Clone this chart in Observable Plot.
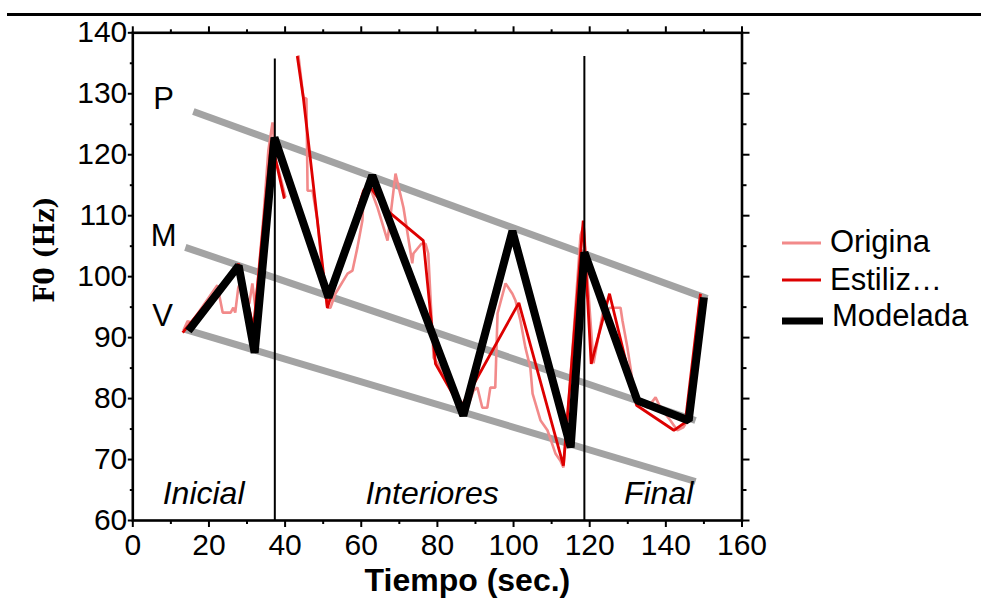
<!DOCTYPE html>
<html><head><meta charset="utf-8">
<script src="https://cdn.jsdelivr.net/npm/d3@7"></script>
<script src="https://cdn.jsdelivr.net/npm/@observablehq/plot@0.6"></script>
<style>
body{margin:0;background:#fff;}
#wrap{position:relative;width:981px;height:610px;font-family:"Liberation Sans",Arial,Helvetica,sans-serif;}
#rule{position:absolute;left:7px;right:0;top:12.6px;height:3.4px;background:#000;}
#wrap svg.legend{position:absolute;left:0;top:0;pointer-events:none;}
#wrap svg{display:block;}
</style></head>
<body><div id="wrap"><div id="rule"></div></div>
<script>
// ---- data ----
const xTicks = [0, 20, 40, 60, 80, 100, 120, 140, 160];
const yTicks = [60, 70, 80, 90, 100, 110, 120, 130, 140];
const xMinor = [10, 30, 50, 70, 90, 110, 130, 150];
const yMinor = [65, 75, 85, 95, 105, 115, 125, 135];

// Original F0 (two pieces)
const origT1 = [13.3,14.4,15.4,22.2,23.6,25.7,26.4,26.9,27.7,28.5,29.9,30.6,31.4,32.2,34.3,35.6,36.7,37.5,38.3,40.1];
const origF1 = [91.2,92.7,92.5,98.6,94.1,94.1,94.9,94.1,98.2,99.4,96.6,95.6,98.9,94.9,109.7,120.7,125.3,119.1,117.5,113.0];
const origT2 = [43.5,44.8,45.6,45.9,47.2,48.5,49.8,51.1,51.9,53.2,56.4,57.7,59.0,60.3,60.6,61.9,64.3,66.9,69.0,71.1,73.4,73.7,75.8,76.9,77.6,79.0,80.0,86.1,87.9,89.5,90.5,91.8,93.1,93.9,95.2,95.8,97.9,99.7,100.5,101.8,103.1,104.4,105.0,107.1,108.9,111.0,112.3,113.1,114.9,117.6,118.4,121.0,123.4,125.4,128.1,128.6,129.9,130.7,132.0,135.2,137.3,138.6,141.2,143.0,144.6,145.7,147.3,149.1];
const origF2 = [136.3,129.4,129.2,114.1,114.1,109.2,100.5,94.9,94.9,97.2,100.5,101.0,104.8,109.2,113.0,115.3,111.3,105.9,116.9,111.3,102.2,103.8,105.4,105.4,103.8,86.7,85.8,78.5,78.5,81.3,81.8,78.5,78.5,81.8,81.8,94.0,98.9,97.2,96.1,92.8,88.4,85.1,80.8,76.4,74.8,71.0,69.8,68.7,83.0,106.8,108.4,85.8,94.0,94.9,94.9,92.8,88.4,85.1,79.7,78.5,80.2,78.5,76.4,74.8,75.3,76.4,86.2,97.2];

// Estilizada (two pieces)
const estT1 = [13.1,27.8,31.7,36.4,39.8];
const estF1 = [90.8,102.1,91.6,122.3,112.8];
const estT2 = [43.2,44.8,51.1,60.6,61.9,66.9,76.3,79.5,86.1,101.4,113.1,118.3,120.4,125.2,132.3,142.1,145.1,149.1];
const estF2 = [136.2,129.3,94.9,114.1,115.1,110.8,105.9,85.7,78.5,95.7,69.0,109.2,85.7,97.2,78.9,74.8,76.1,97.2];

// Modelada
const modT = [14.6,27.8,32.0,37.2,51.4,62.9,86.8,99.7,115.0,118.6,132.5,146.0,150.0];
const modF = [91.1,101.8,87.5,122.8,96.6,116.6,77.2,107.5,72.0,104.0,79.7,76.4,96.6];

// Declination guide lines P, M, V
const guideNames = ["P", "M", "V"];
const guideT1 = [15.9, 13.8, 13.5];
const guideF1 = [127.1, 104.8, 91.4];
const guideT2 = [150.9, 147.8, 147.8];
const guideF2 = [96.4, 76.4, 66.4];
const guideLabelT = [8.1, 8.1, 7.8];
const guideLabelF = [129.1, 106.6, 93.6];

// Boundaries and regions
const boundaryT = [37.3, 118.6];
const boundaryTop = [135.7, 136.1];
const regionNames = ["Inicial", "Interiores", "Final"];
const regionT = [18.6, 78.6, 138.1];
const regionF = [64.4, 64.4, 64.4];

const seriesNames = ["Origina", "Estiliz\u2026", "Modelada"];
const xLabel = "Tiempo (sec.)";
const yLabel = "F0 (Hz)";

// ---- tables ----
const origTable = [
  ...origT1.map((t, i) => ({t, f: origF1[i], seg: 1})),
  ...origT2.map((t, i) => ({t, f: origF2[i], seg: 2}))
];
const estTable = [
  ...estT1.map((t, i) => ({t, f: estF1[i], seg: 1})),
  ...estT2.map((t, i) => ({t, f: estF2[i], seg: 2}))
];
const modTable = modT.map((t, i) => ({t, f: modF[i]}));
const guideTable = guideNames.flatMap((name, i) => [
  {name, t: guideT1[i], f: guideF1[i]},
  {name, t: guideT2[i], f: guideF2[i]}
]);
const guideLabels = guideNames.map((name, i) => ({name, t: guideLabelT[i], f: guideLabelF[i]}));
const boundaryTable = boundaryT.map((t, i) => ({t, top: boundaryTop[i]}));
const regionTable = regionNames.map((name, i) => ({name, t: regionT[i], f: regionF[i]}));

const pink = "#f28a8a", red = "#dd0000", gray = "#a3a3a3";
const font = "Liberation Sans, Arial, Helvetica, sans-serif";

const chart = Plot.plot({
  width: 981, height: 610,
  marginLeft: 132.3, marginRight: 239.5, marginTop: 32.3, marginBottom: 90,
  x: {domain: [0, 160]},
  y: {domain: [60, 140]},
  style: {fontFamily: font, background: "transparent", overflow: "visible", color: "#000"},
  marks: [
    Plot.line(guideTable, {x: "t", y: "f", z: "name", stroke: gray, strokeWidth: 7, strokeLinecap: "butt"}),
    Plot.line(origTable, {x: "t", y: "f", z: "seg", stroke: pink, strokeWidth: 2.6, strokeLinejoin: "miter", strokeLinecap: "butt"}),
    Plot.line(estTable, {x: "t", y: "f", z: "seg", stroke: red, strokeWidth: 2.8, strokeLinejoin: "miter", strokeLinecap: "butt"}),
    Plot.ruleX(boundaryTable, {x: "t", y1: 60, y2: "top", stroke: "#000", strokeWidth: 2}),
    Plot.line(modTable, {x: "t", y: "f", stroke: "#000", strokeWidth: 8, strokeLinejoin: "miter", strokeLinecap: "butt"}),
    Plot.text(guideLabels, {x: "t", y: "f", text: "name", fontSize: 31, fill: "#000"}),
    Plot.text(regionTable, {x: "t", y: "f", text: "name", fontSize: 32, fontStyle: "italic", fill: "#000"}),
    Plot.frame({stroke: "#000", strokeWidth: 2.6}),
    Plot.axisX(xTicks, {anchor: "bottom", tickSize: 7, tickPadding: 6, fontSize: 30, strokeWidth: 2, label: null}),
    Plot.axisX(xMinor, {anchor: "bottom", tickSize: 4, tickFormat: () => "", strokeWidth: 2, label: null}),
    Plot.axisX(xTicks, {anchor: "top", tickSize: 7, tickFormat: () => "", strokeWidth: 2, label: null}),
    Plot.axisX(xMinor, {anchor: "top", tickSize: 4, tickFormat: () => "", strokeWidth: 2, label: null}),
    Plot.axisY(yTicks, {anchor: "left", tickSize: 4.5, tickPadding: 1, fontSize: 30, strokeWidth: 2, label: null}),
    Plot.axisY(yMinor, {anchor: "left", tickSize: 2.5, tickFormat: () => "", strokeWidth: 2, label: null}),
    Plot.axisY(yTicks, {anchor: "right", tickSize: 7, tickFormat: () => "", strokeWidth: 2, label: null}),
    Plot.axisY(yMinor, {anchor: "right", tickSize: 4, tickFormat: () => "", strokeWidth: 2, label: null}),
    Plot.text([xLabel], {frameAnchor: "bottom", lineAnchor: "bottom", textAnchor: "middle", dx: 30, dy: 70, fontSize: 32, fontWeight: "bold", fill: "#000"}),
    Plot.text([yLabel], {frameAnchor: "left", textAnchor: "middle", rotate: -90, dx: -88, dy: -27, fontSize: 28, fontWeight: "bold",
      fontFamily: "DejaVu Serif Condensed, DejaVu Serif, serif", fill: "#000"})
  ]
});
const wrap = document.getElementById("wrap");
wrap.appendChild(chart);

// ---- legend ----
const legendColors = [pink, red, "#000"];
const legendWidths = [3, 3, 7];
const lg = d3.select(wrap).append("svg").attr("class", "legend").attr("width", 981).attr("height", 610);
const rowLineY = [243, 280, 321];
const rowTextY = [252, 290, 326];
seriesNames.forEach((name, i) => {
  lg.append("line").attr("x1", 782).attr("x2", i === 2 ? 823 : 821)
    .attr("y1", rowLineY[i]).attr("y2", rowLineY[i])
    .attr("stroke", legendColors[i]).attr("stroke-width", legendWidths[i]);
  lg.append("text").attr("x", i === 2 ? 832 : 830).attr("y", rowTextY[i])
    .attr("font-family", font).attr("font-size", 31).attr("fill", "#000").text(name);
});
</script>
</body></html>
